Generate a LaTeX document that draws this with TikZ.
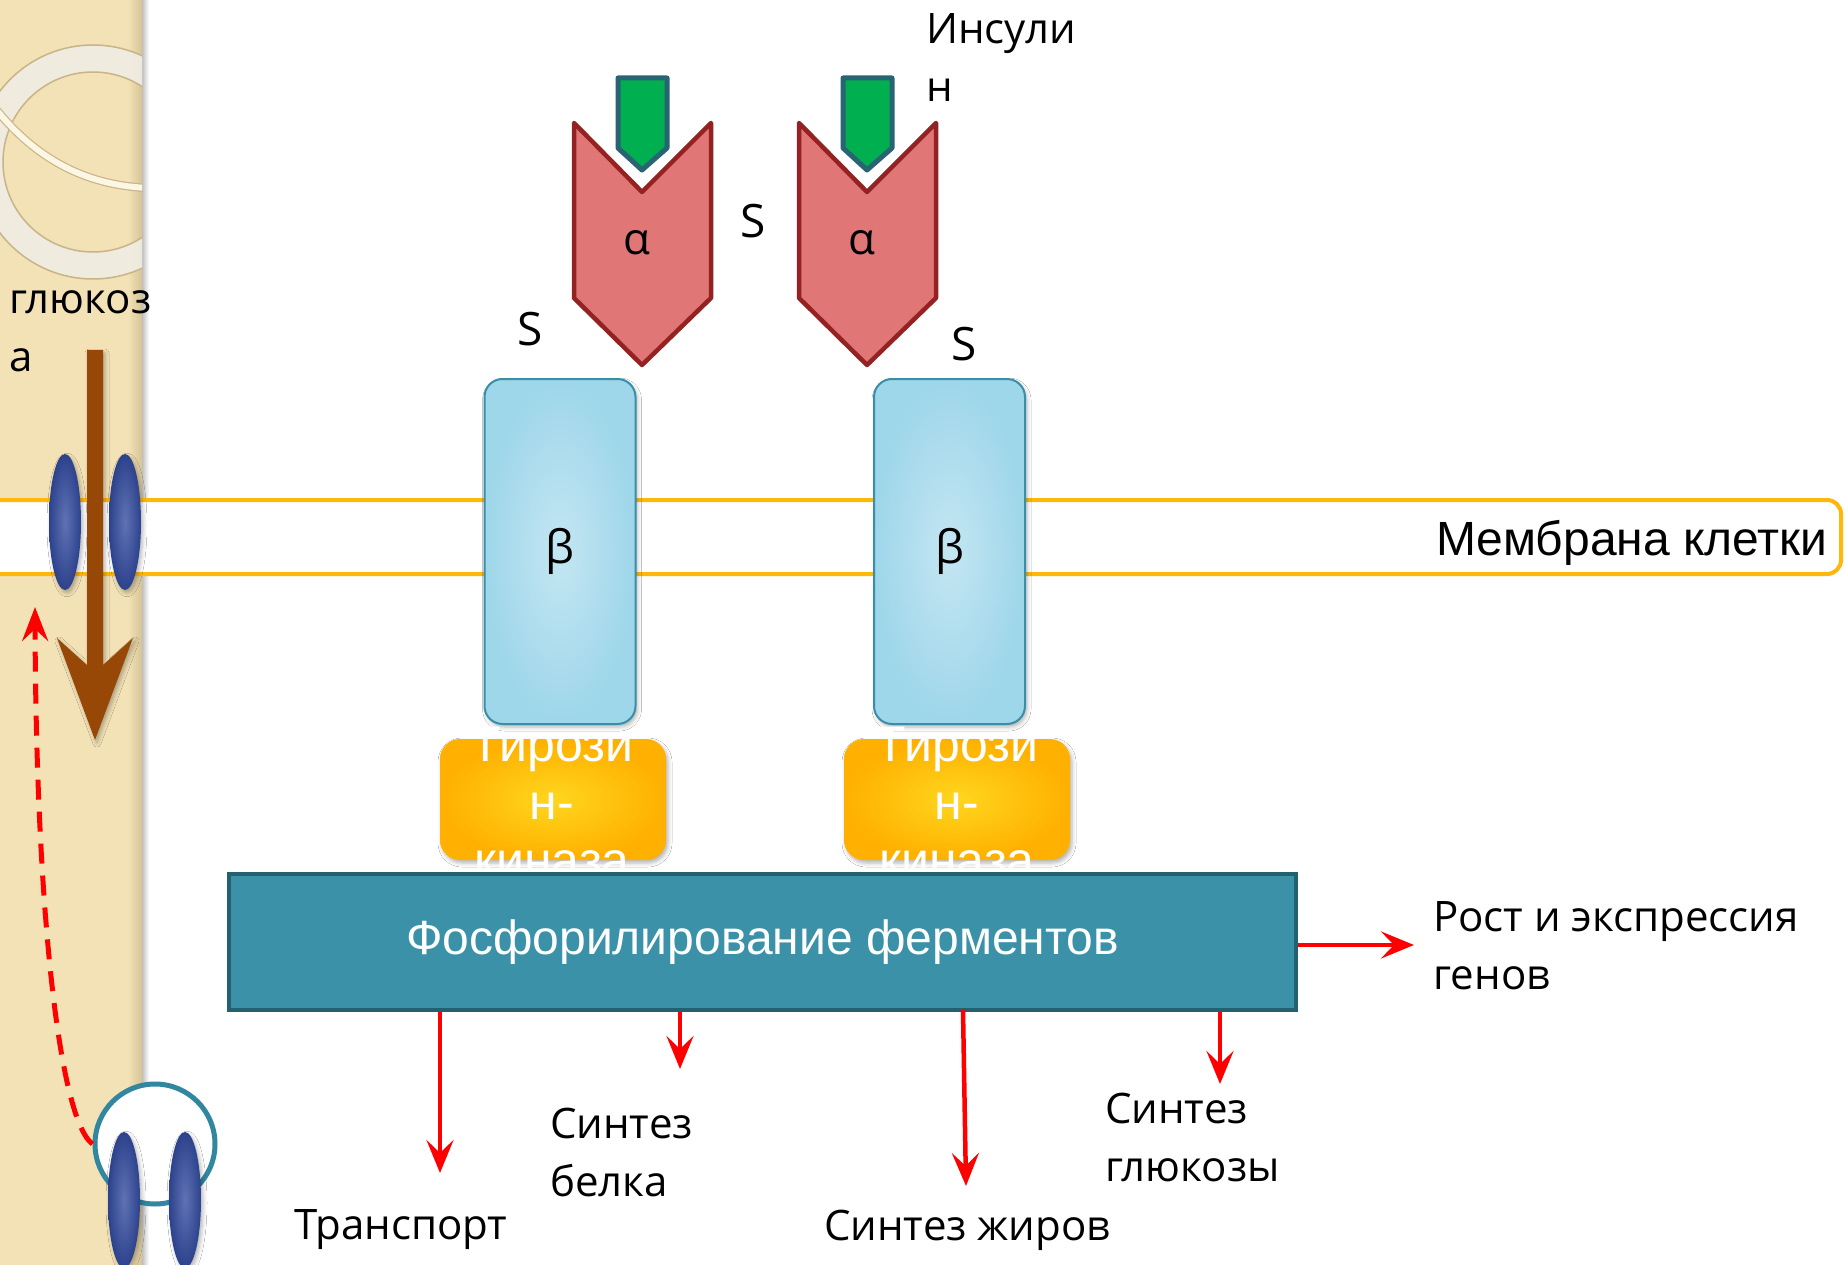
\documentclass[tikz,border=0pt]{standalone}
\usepackage{fontspec}
\setmainfont{Open Sans}
\newfontfamily\arialfont{Liberation Sans}
\usetikzlibrary{arrows.meta,shadows,shadows.blur}

\definecolor{sidebar}{RGB}{242,226,182}
\definecolor{sidebaredge}{RGB}{214,196,150}
\definecolor{ringfill}{RGB}{240,237,228}
\definecolor{ringedge}{RGB}{200,180,136}
\definecolor{ringcream}{RGB}{252,246,228}
\definecolor{membrane}{RGB}{255,184,10}
\definecolor{transA}{RGB}{96,114,180}
\definecolor{transB}{RGB}{44,66,140}
\definecolor{glucbrown}{RGB}{151,71,6}
\definecolor{arrowred}{RGB}{255,0,0}
\definecolor{vesedge}{RGB}{49,135,159}
\definecolor{insfill}{RGB}{0,176,80}
\definecolor{insedge}{RGB}{40,100,115}
\definecolor{alphafill}{RGB}{224,118,118}
\definecolor{alphaedge}{RGB}{149,34,34}
\definecolor{betaA}{RGB}{196,230,242}
\definecolor{betaB}{RGB}{158,214,234}
\definecolor{betaedge}{RGB}{58,143,168}
\definecolor{kinA}{RGB}{255,214,30}
\definecolor{kinB}{RGB}{255,176,0}
\definecolor{phosfill}{RGB}{58,145,168}
\definecolor{phosedge}{RGB}{35,96,112}

\begin{document}
\begin{tikzpicture}[x=1pt,y=-1pt,
  softshadow/.style={blur shadow={shadow xshift=2pt,shadow yshift=-3pt,shadow blur radius=4pt,shadow opacity=30}},
  lbl/.style={font=\fontsize{42}{58}\selectfont,inner sep=0pt,anchor=base west,align=left},
  redarrow/.style={draw=arrowred,line width=4.5pt,-{Stealth[length=33pt,width=27pt,inset=13pt]}},
  dasharrow/.style={draw=arrowred,line width=5pt,dash pattern=on 20pt off 12pt,
    -{Stealth[length=34pt,width=26pt,inset=12pt]}},
  transporter/.style={shading=radial,inner color=transA,outer color=transB,softshadow},
  insulin/.style={fill=insfill,draw=insedge,line width=5pt,line join=round},
  alphashape/.style={fill=alphafill,draw=alphaedge,line width=4.5pt,line join=round},
  betabox/.style={shading=radial,inner color=betaA,outer color=betaB,draw=betaedge,line width=2pt,
    rounded corners=18pt,minimum width=151pt,minimum height=345pt,inner sep=0pt,
    font=\fontsize{46}{56}\selectfont,softshadow},
  kinbox/.style={shading=radial,inner color=kinA,outer color=kinB,rounded corners=20pt,
    minimum width=226pt,minimum height=121pt,inner sep=0pt,softshadow},
  kintext/.style={text=white,font=\arialfont\fontsize{50}{58}\selectfont,align=center,inner sep=0pt},
  phosbox/.style={fill=phosfill,draw=phosedge,line width=4.5pt,minimum width=1067pt,minimum height=136pt,
    inner sep=0pt,text=white,font=\arialfont\fontsize{48}{56}\selectfont},
  glyph/.style={inner sep=0pt}
]
\useasboundingbox (0,0) rectangle (1845,1265);
\fill[white] (0,0) rectangle (1845,1265);

% textured side panel and its soft edge
\fill[sidebar] (0,0) rectangle (142,1265);
\shade[left color=sidebar,right color=sidebaredge] (128,0) rectangle (142,1265);
\shade[left color=black!25,right color=white] (142,0) rectangle (149,1265);

% decorative ring in the panel
\begin{scope}
  \clip (0,0) rectangle (142,1265);
  \fill[ringfill,opacity=0.9,even odd rule] (93,162) circle[radius=117] (93,162) circle[radius=90];
  \draw[ringedge,line width=1.5pt] (93,162) circle[radius=117];
  \draw[ringedge,line width=1.5pt] (93,162) circle[radius=90];
  \draw[ringedge,line width=1.2pt,double=ringcream,double distance=6pt]
    (-5,108) .. controls (35,158) and (85,186) .. (150,188);
\end{scope}

% cell membrane band
\draw[membrane,line width=4pt,fill=white,rounded corners=14pt] (-30,500) rectangle (1841,574);

% glucose transporter in the membrane
\path[transporter] (65,522) ellipse[x radius=16,y radius=68];
\path[transporter] (125,522) ellipse[x radius=16,y radius=68];

% glucose entering the cell
\fill[glucbrown,softshadow] (87,350) -- (87,665) -- (57,638) -- (95,740) -- (133,638) -- (103,665) -- (103,350) -- cycle;

% transporter vesicle and its route back to the membrane
\coordinate (gTip) at (35,607);
\node[circle,draw=vesedge,line width=5pt,fill=white,minimum size=120pt,inner sep=0pt] (vesicle) at (155,1144) {};
\draw[dasharrow] (vesicle.west) .. controls (58,1118) and (36,900) .. (gTip);
\path[transporter] (124,1200) ellipse[x radius=16,y radius=68];
\path[transporter] (185,1200) ellipse[x radius=16,y radius=68];

% insulin molecules
\draw[insulin] (618,78) -- (667,78) -- (667,148) -- (642,170) -- (618,148) -- cycle;
\draw[insulin] (843,78) -- (892,78) -- (892,148) -- (867,170) -- (843,148) -- cycle;

% alpha subunits
\draw[alphashape] (574,123) -- (642,192) -- (711,123) -- (711,298) -- (642,365) -- (574,298) -- cycle;
\draw[alphashape] (799,123) -- (867,192) -- (936,123) -- (936,298) -- (867,365) -- (799,298) -- cycle;
\node[glyph,font=\fontsize{44}{50}\selectfont] (alpha1) at (637,243) {α};
\node[glyph,font=\fontsize{44}{50}\selectfont] (alpha2) at (862,243) {α};

% disulfide bridges
\node[glyph,font=\fontsize{46}{50}\selectfont] (s1) at (530,329) {S};
\node[glyph,font=\fontsize{46}{50}\selectfont] (s2) at (753,221) {S};
\node[glyph,font=\fontsize{46}{50}\selectfont] (s3) at (964,344) {S};

% beta subunits
\node[betabox] (beta1) at (560,551.5) {β};
\node[betabox] (beta2) at (949.5,551.5) {β};

% tyrosine kinase domains
\node[kinbox] (kin1) at (553,799.5) {};
\node[kinbox] (kin2) at (957,799.5) {};
\node[kintext] (kintxt1) at (552,803) {Тирози\\н-\\киназа};
\node[kintext] (kintxt2) at (957,803) {Тирози\\н-\\киназа};

% phosphorylation cascade
\node[phosbox] (phos) at (762.5,942) {Фосфорилирование ферментов};

% effects
\coordinate (tGrowth) at (1414,945);
\coordinate (tTransport) at (440,1173);
\coordinate (tProtein) at (680,1069);
\coordinate (tFat) at (966,1186);
\coordinate (sFat) at (963,1010);
\coordinate (tGluc) at (1220,1084);
\draw[redarrow] (phos.east |- tGrowth) -- (tGrowth);
\draw[redarrow] (phos.south -| tTransport) -- (tTransport);
\draw[redarrow] (phos.south -| tProtein) -- (tProtein);
\draw[redarrow] (sFat) -- (tFat);
\draw[redarrow] (phos.south -| tGluc) -- (tGluc);

% multi-line labels are placed by the baseline of their last line
\node[lbl] (growth) at (1433,989) {Рост и экспрессия\\генов};
\node[lbl] (transport) at (294,1239) {Транспорт};
\node[lbl] (protein) at (550,1196) {Синтез\\белка};
\node[lbl] (fat) at (824,1240) {Синтез жиров};
\node[lbl] (glucsyn) at (1105,1181) {Синтез\\глюкозы};
\node[lbl] (insulin) at (926,102) {Инсули\\н};
\node[lbl] (glucose) at (9,371) {глюкоз\\а};
\node[inner sep=0pt,anchor=base west,font=\arialfont\fontsize{48}{56}\selectfont] (memlbl) at (1436,555) {Мембрана клетки};
\end{tikzpicture}
\end{document}
